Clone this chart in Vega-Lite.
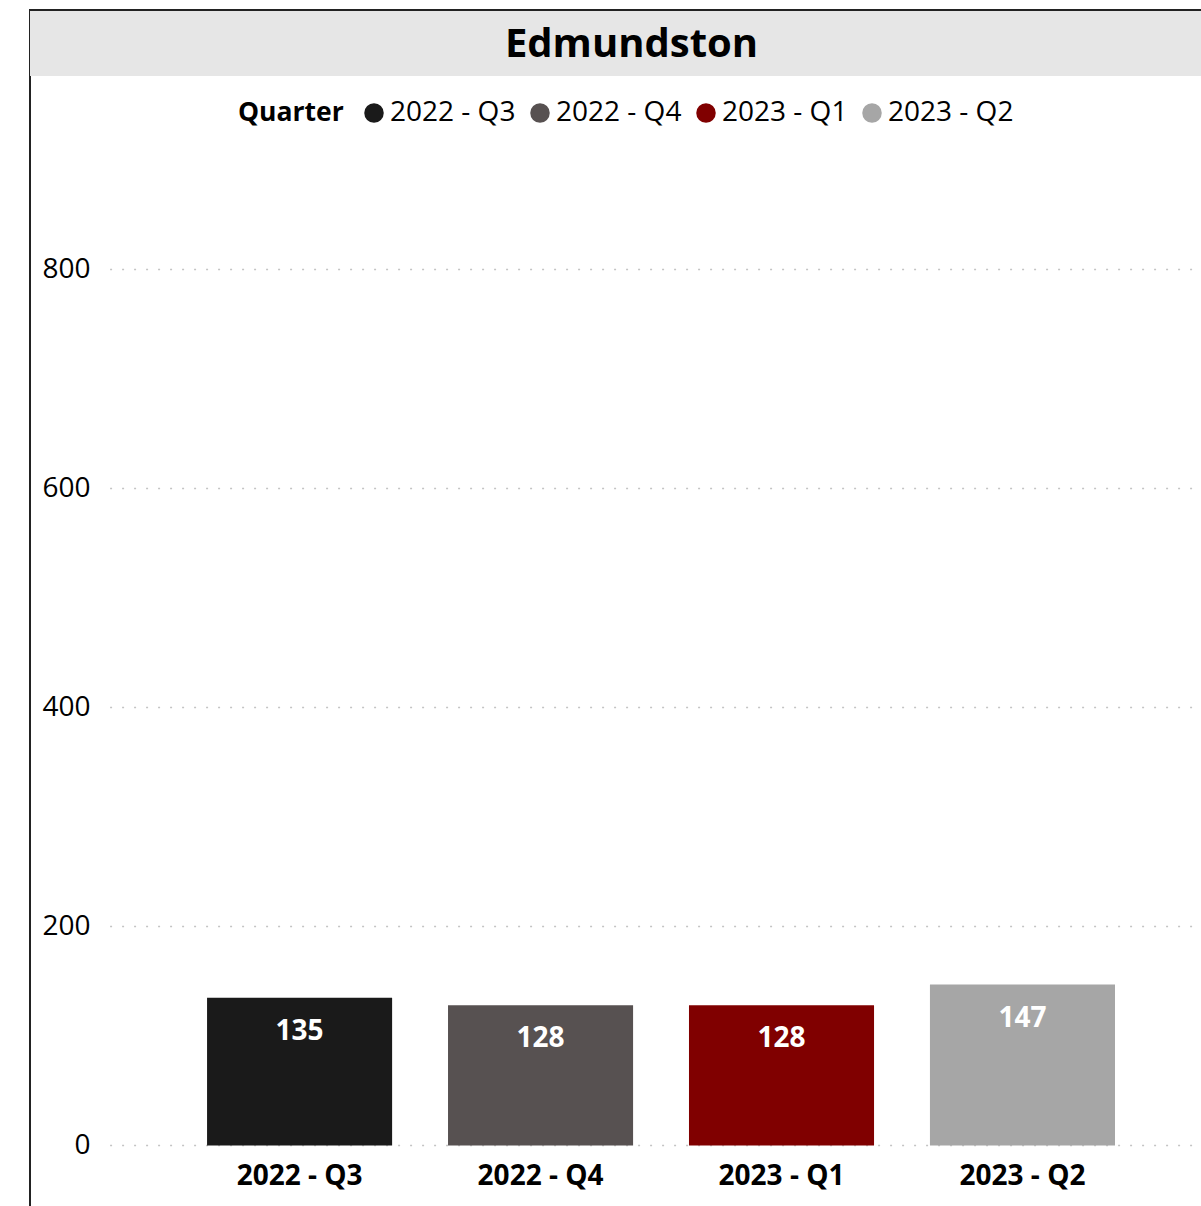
{
  "$schema": "https://vega.github.io/schema/vega-lite/v6.json",
  "width": 1201,
  "height": 1206,
  "autosize": {"type": "fit", "contains": "padding"},
  "padding": {"left": 30, "top": 10, "right": -2, "bottom": -2},
  "background": "white",
  "config": {
    "font": "Open Sans",
    "view": {"stroke": "#222222", "strokeWidth": 2}
  },
  "datasets": {
    "bars": [
      {"quarter": "2022 - Q3", "value": 135},
      {"quarter": "2022 - Q4", "value": 128},
      {"quarter": "2023 - Q1", "value": 128},
      {"quarter": "2023 - Q2", "value": 147}
    ],
    "grid": [{"v": 0}, {"v": 200}, {"v": 400}, {"v": 600}, {"v": 800}],
    "title": [{"t": "Edmundston"}]
  },
  "layer": [
    {
      "data": {"name": "title"},
      "mark": {"type": "rect", "fill": "#e6e6e6"},
      "encoding": {
        "y": {"datum": 1036.1, "type": "quantitative"},
        "y2": {"datum": 976.7}
      }
    },
    {
      "data": {"name": "title"},
      "mark": {"type": "text", "fontSize": 40, "fontWeight": "bold", "color": "#000000", "baseline": "middle", "align": "center", "dx": 15},
      "encoding": {
        "y": {"datum": 1005, "type": "quantitative"},
        "text": {"field": "t"}
      }
    },
    {
      "data": {"name": "grid"},
      "mark": {"type": "rule", "color": "#c4c4c4", "strokeWidth": 1.5, "strokeDash": [2, 10]},
      "encoding": {
        "y": {"field": "v", "type": "quantitative"},
        "x": {"datum": "2022 - Q3", "type": "nominal", "bandPosition": -0.524},
        "x2": {"datum": "2023 - Q2", "bandPosition": 1.43}
      }
    },
    {
      "data": {"name": "bars"},
      "mark": {"type": "bar"},
      "encoding": {
        "x": {
          "field": "quarter",
          "type": "nominal",
          "sort": null,
          "scale": {"domain": ["2022 - Q3", "2022 - Q4", "2023 - Q1", "2023 - Q2"], "paddingInner": 0.232, "paddingOuter": 0.55, "align": 0.668},
          "axis": {
            "orient": "bottom",
            "offset": -62.5,
            "bandPosition": 0.5,
            "domain": false,
            "ticks": false,
            "grid": false,
            "title": null,
            "labelAngle": 0,
            "labelAlign": "center",
            "labelFontSize": 28,
            "labelFontWeight": "bold",
            "labelColor": "#000000",
            "labelPadding": 31
          }
        },
        "y": {
          "field": "value",
          "type": "quantitative",
          "scale": {"domain": [-57.1, 1037], "nice": false, "zero": false},
          "axis": {
            "values": [0, 200, 400, 600, 800],
            "domain": false,
            "ticks": false,
            "tickSize": 0,
            "grid": false,
            "title": null,
            "labelFontSize": 28,
            "labelColor": "#000000",
            "labelAlign": "right",
            "labelPadding": -60
          }
        },
        "y2": {"datum": 0},
        "color": {
          "field": "quarter",
          "type": "nominal",
          "scale": {"domain": ["2022 - Q3", "2022 - Q4", "2023 - Q1", "2023 - Q2"], "range": ["#1a1a1a", "#575151", "#800000", "#a6a6a6"]},
          "legend": {
            "title": "Quarter",
            "orient": "none",
            "legendX": 208,
            "legendY": 89,
            "direction": "horizontal",
            "titleOrient": "left",
            "titleFontSize": 26.5,
            "titleFontWeight": "bold",
            "titleColor": "#000000",
            "titlePadding": 16,
            "labelFontSize": 28,
            "labelColor": "#000000",
            "labelOffset": 2,
            "columnPadding": 10,
            "symbolType": "circle",
            "symbolSize": 380,
            "symbolStrokeWidth": 0,
            "symbolOpacity": 1,
            "labelLimit": 400
          }
        }
      }
    },
    {
      "data": {"name": "bars"},
      "mark": {"type": "text", "fontSize": 28, "fontWeight": "bold", "color": "#ffffff", "baseline": "top", "dy": 20},
      "encoding": {
        "x": {"field": "quarter", "type": "nominal"},
        "y": {"field": "value", "type": "quantitative"},
        "text": {"field": "value", "type": "quantitative"}
      }
    }
  ]
}
